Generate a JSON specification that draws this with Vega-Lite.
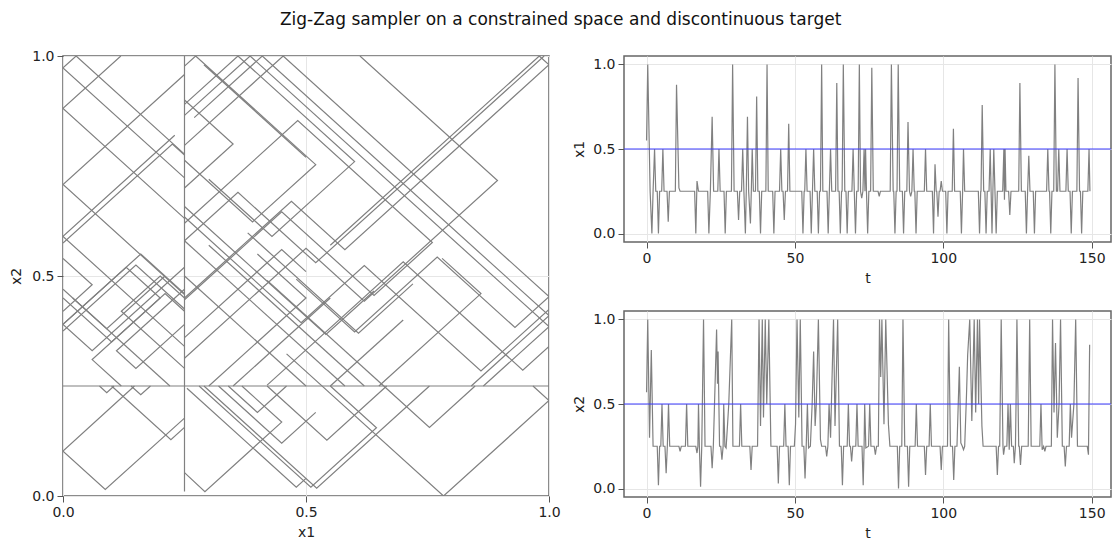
{
  "$schema": "https://vega.github.io/schema/vega-lite/v6.json",
  "background": "white",
  "padding": {"left": 8, "top": 11, "right": 0, "bottom": 0},
  "title": {"text": "Zig-Zag sampler on a constrained space and discontinuous target", "fontSize": 17, "fontWeight": "normal", "font": "DejaVu Sans", "color": "#111", "anchor": "middle", "offset": 19},
  "config": {
    "font": "DejaVu Sans",
    "view": {"stroke": "#666", "strokeWidth": 1.5},
    "axis": {"labelFont": "DejaVu Sans", "titleFont": "DejaVu Sans", "labelFontSize": 14, "titleFontSize": 14, "titleFontWeight": "normal", "labelColor": "#222", "titleColor": "#222", "tickColor": "#555", "tickSize": 6, "labelPadding": 3, "titlePadding": 6, "labelFlush": false, "domain": false, "grid": true, "gridColor": "#e6e6e6", "gridWidth": 1}
  },
  "datasets": {
    "path": [
      {"p":0,"i":0,"x1":0,"x2":0.25},{"p":0,"i":1,"x1":1,"x2":0.25},
      {"p":1,"i":0,"x1":0.25,"x2":0.01},{"p":1,"i":1,"x1":0.25,"x2":1.0},
      {"p":2,"i":0,"x1":0.55,"x2":0.57},{"p":2,"i":1,"x1":0.98,"x2":1.0},{"p":2,"i":2,"x1":1.0,"x2":0.98},{"p":2,"i":3,"x1":0.58,"x2":0.56},{"p":2,"i":4,"x1":0.47,"x2":0.67},{"p":2,"i":5,"x1":0.25,"x2":0.45},
      {"p":3,"i":0,"x1":0.99,"x2":1.0},{"p":3,"i":1,"x1":0.52,"x2":0.53},{"p":3,"i":2,"x1":0.36,"x2":0.69},{"p":3,"i":3,"x1":0.25,"x2":0.58},
      {"p":4,"i":0,"x1":0.611,"x2":1.0},{"p":4,"i":1,"x1":0.894,"x2":0.717},{"p":4,"i":2,"x1":0.62,"x2":0.443},{"p":4,"i":3,"x1":0.5,"x2":0.563},{"p":4,"i":4,"x1":0.25,"x2":0.313},
      {"p":5,"i":0,"x1":0.25,"x2":0.797},{"p":5,"i":1,"x1":0.453,"x2":1.0},{"p":5,"i":2,"x1":1.0,"x2":0.453},{"p":5,"i":3,"x1":0.93,"x2":0.383},{"p":5,"i":4,"x1":0.77,"x2":0.543},{"p":5,"i":5,"x1":0.6,"x2":0.373},{"p":5,"i":6,"x1":0.48,"x2":0.493},
      {"p":6,"i":0,"x1":0.27,"x2":0.86},{"p":6,"i":1,"x1":0.41,"x2":1.0},{"p":6,"i":2,"x1":1.0,"x2":0.41},{"p":6,"i":3,"x1":0.84,"x2":0.25},
      {"p":7,"i":0,"x1":0.25,"x2":0.865},{"p":7,"i":1,"x1":0.385,"x2":1.0},{"p":7,"i":2,"x1":1.0,"x2":0.385},{"p":7,"i":3,"x1":0.865,"x2":0.25},
      {"p":8,"i":0,"x1":1.0,"x2":0.34},{"p":8,"i":1,"x1":0.946,"x2":0.286},{"p":8,"i":2,"x1":0.7,"x2":0.532},{"p":8,"i":3,"x1":0.5,"x2":0.332},{"p":8,"i":4,"x1":0.42,"x2":0.252},
      {"p":9,"i":0,"x1":1.0,"x2":0.424},{"p":9,"i":1,"x1":0.86,"x2":0.284},{"p":9,"i":2,"x1":0.62,"x2":0.524},{"p":9,"i":3,"x1":0.49,"x2":0.394},{"p":9,"i":4,"x1":0.25,"x2":0.634},
      {"p":10,"i":0,"x1":0.25,"x2":0.62},{"p":10,"i":1,"x1":0.483,"x2":0.853},{"p":10,"i":2,"x1":0.76,"x2":0.576},{"p":10,"i":3,"x1":0.64,"x2":0.456},{"p":10,"i":4,"x1":0.45,"x2":0.646},{"p":10,"i":5,"x1":0.25,"x2":0.446},
      {"p":11,"i":0,"x1":0.25,"x2":0.977},{"p":11,"i":1,"x1":0.273,"x2":1.0},{"p":11,"i":2,"x1":0.52,"x2":0.753},{"p":11,"i":3,"x1":0.39,"x2":0.623},{"p":11,"i":4,"x1":0.25,"x2":0.763},
      {"p":12,"i":0,"x1":0.25,"x2":0.89},{"p":12,"i":1,"x1":0.36,"x2":1.0},{"p":12,"i":2,"x1":0.6,"x2":0.76},{"p":12,"i":3,"x1":0.43,"x2":0.59},{"p":12,"i":4,"x1":0.3,"x2":0.72},
      {"p":13,"i":0,"x1":0.25,"x2":0.723},{"p":13,"i":1,"x1":0,"x2":0.973},{"p":13,"i":2,"x1":0.027,"x2":1.0},{"p":13,"i":3,"x1":0.25,"x2":0.777},
      {"p":14,"i":0,"x1":0.119,"x2":1.0},{"p":14,"i":1,"x1":0,"x2":0.881},{"p":14,"i":2,"x1":0.25,"x2":0.631},
      {"p":15,"i":0,"x1":0.25,"x2":0.958},{"p":15,"i":1,"x1":0,"x2":0.708},{"p":15,"i":2,"x1":0.25,"x2":0.458},
      {"p":16,"i":0,"x1":0.23,"x2":0.82},{"p":16,"i":1,"x1":0,"x2":0.59},{"p":16,"i":2,"x1":0.25,"x2":0.34},
      {"p":17,"i":0,"x1":0,"x2":0.575},{"p":17,"i":1,"x1":0.225,"x2":0.8},{"p":17,"i":2,"x1":0.25,"x2":0.775},
      {"p":18,"i":0,"x1":0.25,"x2":0.52},{"p":18,"i":1,"x1":0.06,"x2":0.33},{"p":18,"i":2,"x1":0,"x2":0.39},{"p":18,"i":3,"x1":0.16,"x2":0.55},{"p":18,"i":4,"x1":0.25,"x2":0.46},
      {"p":19,"i":0,"x1":0.25,"x2":0.29},{"p":19,"i":1,"x1":0.12,"x2":0.42},{"p":19,"i":2,"x1":0.2,"x2":0.5},{"p":19,"i":3,"x1":0.25,"x2":0.45},
      {"p":20,"i":0,"x1":0,"x2":0.47},{"p":20,"i":1,"x1":0.22,"x2":0.25},
      {"p":21,"i":0,"x1":0,"x2":0.45},{"p":21,"i":1,"x1":0.1,"x2":0.35},{"p":21,"i":2,"x1":0.21,"x2":0.46},{"p":21,"i":3,"x1":0.25,"x2":0.42},
      {"p":22,"i":0,"x1":0,"x2":0.375},{"p":22,"i":1,"x1":0.15,"x2":0.525},{"p":22,"i":2,"x1":0.25,"x2":0.425},
      {"p":23,"i":0,"x1":0,"x2":0.39},{"p":23,"i":1,"x1":0.13,"x2":0.52},{"p":23,"i":2,"x1":0.2,"x2":0.45},{"p":23,"i":3,"x1":0.06,"x2":0.31},{"p":23,"i":4,"x1":0.12,"x2":0.25},
      {"p":24,"i":0,"x1":0.25,"x2":0.658},{"p":24,"i":1,"x1":0.541,"x2":0.367},{"p":24,"i":2,"x1":0.64,"x2":0.466},
      {"p":25,"i":0,"x1":0.38,"x2":0.598},{"p":25,"i":1,"x1":0.608,"x2":0.37},{"p":25,"i":2,"x1":0.72,"x2":0.482},
      {"p":26,"i":0,"x1":0.25,"x2":0.58},{"p":26,"i":1,"x1":0.58,"x2":0.25},
      {"p":27,"i":0,"x1":0.3,"x2":0.57},{"p":27,"i":1,"x1":0.62,"x2":0.25},
      {"p":28,"i":0,"x1":0.25,"x2":0.5},{"p":28,"i":1,"x1":0.5,"x2":0.25},
      {"p":29,"i":0,"x1":0.42,"x2":0.49},{"p":29,"i":1,"x1":0.66,"x2":0.25},
      {"p":30,"i":0,"x1":0.65,"x2":0.25},{"p":30,"i":1,"x1":0.86,"x2":0.46},{"p":30,"i":2,"x1":0.78,"x2":0.54},
      {"p":31,"i":0,"x1":0.55,"x2":0.25},{"p":31,"i":1,"x1":0.7,"x2":0.4},
      {"p":32,"i":0,"x1":0.25,"x2":0.177},{"p":32,"i":1,"x1":0.087,"x2":0.015},{"p":32,"i":2,"x1":0,"x2":0.102},{"p":32,"i":3,"x1":0.147,"x2":0.25},
      {"p":33,"i":0,"x1":0.1,"x2":0.25},{"p":33,"i":1,"x1":0.222,"x2":0.128},{"p":33,"i":2,"x1":0.25,"x2":0.156},
      {"p":34,"i":0,"x1":0.14,"x2":0.25},{"p":34,"i":1,"x1":0.16,"x2":0.23},{"p":34,"i":2,"x1":0.18,"x2":0.25},
      {"p":35,"i":0,"x1":0.075,"x2":0.25},{"p":35,"i":1,"x1":0.09,"x2":0.235},{"p":35,"i":2,"x1":0.105,"x2":0.25},
      {"p":36,"i":0,"x1":0.25,"x2":0.053},{"p":36,"i":1,"x1":0.292,"x2":0.01},{"p":36,"i":2,"x1":0.45,"x2":0.168},{"p":36,"i":3,"x1":0.368,"x2":0.25},
      {"p":37,"i":0,"x1":0.28,"x2":0.25},{"p":37,"i":1,"x1":0.51,"x2":0.02},{"p":37,"i":2,"x1":0.645,"x2":0.155},{"p":37,"i":3,"x1":0.55,"x2":0.25},
      {"p":38,"i":0,"x1":0.29,"x2":0.25},{"p":38,"i":1,"x1":0.522,"x2":0.018},{"p":38,"i":2,"x1":0.754,"x2":0.25},
      {"p":39,"i":0,"x1":0.255,"x2":0.245},{"p":39,"i":1,"x1":0.48,"x2":0.02},{"p":39,"i":2,"x1":0.5,"x2":0.04},
      {"p":40,"i":0,"x1":0.42,"x2":0.25},{"p":40,"i":1,"x1":0.543,"x2":0.127},{"p":40,"i":2,"x1":0.666,"x2":0.25},
      {"p":41,"i":0,"x1":0.46,"x2":0.323},{"p":41,"i":1,"x1":0.783,"x2":0.0},{"p":41,"i":2,"x1":1.0,"x2":0.217},{"p":41,"i":3,"x1":0.967,"x2":0.25},
      {"p":42,"i":0,"x1":0.66,"x2":0.25},{"p":42,"i":1,"x1":0.754,"x2":0.156},{"p":42,"i":2,"x1":0.848,"x2":0.25},
      {"p":43,"i":0,"x1":0.34,"x2":0.25},{"p":43,"i":1,"x1":0.4,"x2":0.19},{"p":43,"i":2,"x1":0.46,"x2":0.25},
      {"p":44,"i":0,"x1":0,"x2":0.42},{"p":44,"i":1,"x1":0.06,"x2":0.48},{"p":44,"i":2,"x1":0,"x2":0.54},
      {"p":45,"i":0,"x1":0.25,"x2":0.39},{"p":45,"i":1,"x1":0.15,"x2":0.29},{"p":45,"i":2,"x1":0.11,"x2":0.33},{"p":45,"i":3,"x1":0.25,"x2":0.47},
      {"p":46,"i":0,"x1":0.02,"x2":0.45},{"p":46,"i":1,"x1":0.09,"x2":0.38},{"p":46,"i":2,"x1":0.21,"x2":0.5},
      {"p":47,"i":0,"x1":0.3,"x2":0.25},{"p":47,"i":1,"x1":0.5,"x2":0.45},{"p":47,"i":2,"x1":0.4,"x2":0.55},
      {"p":48,"i":0,"x1":0.35,"x2":0.25},{"p":48,"i":1,"x1":0.55,"x2":0.45},
      {"p":49,"i":0,"x1":0.25,"x2":0.36},{"p":49,"i":1,"x1":0.45,"x2":0.56},{"p":49,"i":2,"x1":0.5,"x2":0.51},
      {"p":50,"i":0,"x1":0.25,"x2":0.7},{"p":50,"i":1,"x1":0.35,"x2":0.8},{"p":50,"i":2,"x1":0.25,"x2":0.9},
      {"p":51,"i":0,"x1":0.29,"x2":0.98},{"p":51,"i":1,"x1":0.5,"x2":0.77},
      {"p":52,"i":0,"x1":0.32,"x2":0.25},{"p":52,"i":1,"x1":0.45,"x2":0.12},{"p":52,"i":2,"x1":0.52,"x2":0.19}
    ],
    "s1": [
      {"t":0,"v":0.55},{"t":0.4,"v":1.0},{"t":1.2,"v":0.25},{"t":1.8,"v":0.0},{"t":2.2,"v":0.25},{"t":2.7,"v":0.5},{"t":3.1,"v":0.25},{"t":3.6,"v":0.25},{"t":4.0,"v":0.0},{"t":4.4,"v":0.25},{"t":5.1,"v":0.25},{"t":5.5,"v":0.5},{"t":5.9,"v":0.25},{"t":6.9,"v":0.25},{"t":7.3,"v":0.07},{"t":7.7,"v":0.25},{"t":9.7,"v":0.25},{"t":10.1,"v":0.88},{"t":10.9,"v":0.27},{"t":11.3,"v":0.25},{"t":16.2,"v":0.25},{"t":16.6,"v":0.0},{"t":17.0,"v":0.31},{"t":17.5,"v":0.25},{"t":20.6,"v":0.25},{"t":21.0,"v":0.0},{"t":21.5,"v":0.25},{"t":22.1,"v":0.69},{"t":22.6,"v":0.25},{"t":24.0,"v":0.25},{"t":24.4,"v":0.5},{"t":24.8,"v":0.25},{"t":26.1,"v":0.25},{"t":26.5,"v":0.0},{"t":26.9,"v":0.25},{"t":28.6,"v":0.25},{"t":29.0,"v":1.0},{"t":29.5,"v":0.25},{"t":30.6,"v":0.25},{"t":31.0,"v":0.08},{"t":31.4,"v":0.25},{"t":32.0,"v":0.25},{"t":32.4,"v":0.5},{"t":32.8,"v":0.25},{"t":33.3,"v":0.0},{"t":33.6,"v":0.25},{"t":34.0,"v":0.69},{"t":34.4,"v":0.25},{"t":35.0,"v":0.06},{"t":35.3,"v":0.25},{"t":35.6,"v":0.5},{"t":36.0,"v":0.25},{"t":36.7,"v":0.25},{"t":37.1,"v":0.81},{"t":37.5,"v":0.25},{"t":38.0,"v":0.25},{"t":38.4,"v":0.0},{"t":38.8,"v":0.25},{"t":40.2,"v":0.25},{"t":40.6,"v":1.0},{"t":41.0,"v":0.25},{"t":42.5,"v":0.25},{"t":42.9,"v":0.0},{"t":43.3,"v":0.25},{"t":44.8,"v":0.25},{"t":45.2,"v":0.5},{"t":45.6,"v":0.25},{"t":46.0,"v":0.25},{"t":46.4,"v":0.08},{"t":46.8,"v":0.25},{"t":47.5,"v":0.25},{"t":47.9,"v":0.65},{"t":48.3,"v":0.25},{"t":52.3,"v":0.25},{"t":52.7,"v":0.0},{"t":53.1,"v":0.25},{"t":53.3,"v":0.25},{"t":53.7,"v":0.5},{"t":54.1,"v":0.25},{"t":55.1,"v":0.25},{"t":55.5,"v":0.0},{"t":55.9,"v":0.25},{"t":56.3,"v":0.5},{"t":56.7,"v":0.25},{"t":57.5,"v":0.25},{"t":57.9,"v":0.0},{"t":58.3,"v":0.25},{"t":58.6,"v":0.25},{"t":59.0,"v":1.0},{"t":59.4,"v":0.25},{"t":60.8,"v":0.25},{"t":61.2,"v":0.0},{"t":61.6,"v":0.25},{"t":62.0,"v":0.5},{"t":62.4,"v":0.25},{"t":63.7,"v":0.25},{"t":64.1,"v":0.89},{"t":64.5,"v":0.25},{"t":64.9,"v":0.25},{"t":65.3,"v":0.0},{"t":65.7,"v":0.25},{"t":65.9,"v":0.25},{"t":66.3,"v":1.0},{"t":66.8,"v":0.25},{"t":67.2,"v":0.25},{"t":67.6,"v":0.0},{"t":68.0,"v":0.25},{"t":69.2,"v":0.25},{"t":69.6,"v":0.5},{"t":70.0,"v":0.25},{"t":70.4,"v":0.0},{"t":70.8,"v":0.25},{"t":71.3,"v":0.25},{"t":71.7,"v":1.0},{"t":72.1,"v":0.25},{"t":72.5,"v":0.21},{"t":72.9,"v":0.25},{"t":73.3,"v":0.5},{"t":73.6,"v":0.25},{"t":73.8,"v":0.5},{"t":74.1,"v":0.25},{"t":74.5,"v":0.0},{"t":74.9,"v":0.25},{"t":75.5,"v":0.25},{"t":75.9,"v":0.98},{"t":76.4,"v":0.25},{"t":78.0,"v":0.25},{"t":78.4,"v":0.22},{"t":78.8,"v":0.25},{"t":82.1,"v":0.25},{"t":82.5,"v":1.0},{"t":83.1,"v":0.25},{"t":83.3,"v":0.25},{"t":83.7,"v":0.0},{"t":84.1,"v":0.25},{"t":84.4,"v":0.25},{"t":84.8,"v":1.0},{"t":85.3,"v":0.25},{"t":86.2,"v":0.25},{"t":86.6,"v":0.0},{"t":87.0,"v":0.25},{"t":87.7,"v":0.25},{"t":88.1,"v":0.66},{"t":88.6,"v":0.25},{"t":89.0,"v":0.22},{"t":89.4,"v":0.25},{"t":89.8,"v":0.5},{"t":90.2,"v":0.25},{"t":90.4,"v":0.25},{"t":90.8,"v":0.0},{"t":91.2,"v":0.25},{"t":93.6,"v":0.25},{"t":94.0,"v":0.5},{"t":94.4,"v":0.25},{"t":96.3,"v":0.25},{"t":96.7,"v":0.0},{"t":97.0,"v":0.25},{"t":97.2,"v":0.41},{"t":97.6,"v":0.25},{"t":97.8,"v":0.25},{"t":98.2,"v":0.1},{"t":98.6,"v":0.25},{"t":98.9,"v":0.25},{"t":99.3,"v":0.31},{"t":99.7,"v":0.25},{"t":100.8,"v":0.25},{"t":101.2,"v":0.0},{"t":101.6,"v":0.25},{"t":103.0,"v":0.25},{"t":103.4,"v":0.62},{"t":103.8,"v":0.25},{"t":105.7,"v":0.25},{"t":106.1,"v":0.0},{"t":106.5,"v":0.25},{"t":106.8,"v":0.5},{"t":107.2,"v":0.25},{"t":111.8,"v":0.25},{"t":112.2,"v":0.0},{"t":112.6,"v":0.25},{"t":112.7,"v":0.25},{"t":113.1,"v":0.76},{"t":113.6,"v":0.25},{"t":114.0,"v":0.25},{"t":114.4,"v":0.0},{"t":114.8,"v":0.25},{"t":115.4,"v":0.25},{"t":115.8,"v":0.5},{"t":116.1,"v":0.25},{"t":116.4,"v":0.0},{"t":116.7,"v":0.25},{"t":117.0,"v":0.5},{"t":117.4,"v":0.25},{"t":117.8,"v":0.0},{"t":118.2,"v":0.25},{"t":120.0,"v":0.25},{"t":120.4,"v":0.5},{"t":120.6,"v":0.2},{"t":120.8,"v":0.5},{"t":121.1,"v":0.25},{"t":122.0,"v":0.25},{"t":122.4,"v":0.11},{"t":122.8,"v":0.25},{"t":125.4,"v":0.25},{"t":125.8,"v":0.89},{"t":126.3,"v":0.25},{"t":127.6,"v":0.25},{"t":128.0,"v":0.0},{"t":128.4,"v":0.25},{"t":128.8,"v":0.46},{"t":129.2,"v":0.25},{"t":130.3,"v":0.25},{"t":130.7,"v":0.0},{"t":131.1,"v":0.25},{"t":134.8,"v":0.25},{"t":135.2,"v":0.5},{"t":135.6,"v":0.25},{"t":135.8,"v":0.25},{"t":136.2,"v":0.0},{"t":136.6,"v":0.25},{"t":137.2,"v":0.25},{"t":137.6,"v":1.0},{"t":138.1,"v":0.25},{"t":138.5,"v":0.25},{"t":138.9,"v":0.5},{"t":139.3,"v":0.25},{"t":141.3,"v":0.25},{"t":141.7,"v":0.5},{"t":142.1,"v":0.25},{"t":142.7,"v":0.25},{"t":143.1,"v":0.0},{"t":143.5,"v":0.25},{"t":145.0,"v":0.25},{"t":145.4,"v":0.92},{"t":145.9,"v":0.25},{"t":146.2,"v":0.25},{"t":146.6,"v":0.0},{"t":147.0,"v":0.25},{"t":148.7,"v":0.25},{"t":149.1,"v":0.5},{"t":149.4,"v":0.25}
    ],
    "s2": [
      {"t":0,"v":0.57},{"t":0.4,"v":1.0},{"t":1.0,"v":0.3},{"t":1.6,"v":0.82},{"t":2.2,"v":0.25},{"t":3.6,"v":0.25},{"t":4.0,"v":0.02},{"t":4.4,"v":0.25},{"t":4.8,"v":0.25},{"t":5.2,"v":0.5},{"t":5.6,"v":0.25},{"t":6.2,"v":0.25},{"t":6.6,"v":0.09},{"t":7.0,"v":0.25},{"t":7.4,"v":0.5},{"t":7.8,"v":0.25},{"t":10.9,"v":0.25},{"t":11.3,"v":0.22},{"t":11.7,"v":0.25},{"t":13.1,"v":0.25},{"t":13.5,"v":0.5},{"t":13.9,"v":0.25},{"t":16.6,"v":0.25},{"t":17.0,"v":0.21},{"t":17.3,"v":0.25},{"t":17.5,"v":0.5},{"t":17.8,"v":0.25},{"t":18.2,"v":0.01},{"t":18.6,"v":0.25},{"t":18.8,"v":0.5},{"t":19.2,"v":1.0},{"t":19.7,"v":0.25},{"t":21.7,"v":0.25},{"t":22.1,"v":0.12},{"t":22.5,"v":0.25},{"t":22.9,"v":0.5},{"t":23.6,"v":0.94},{"t":23.9,"v":0.62},{"t":24.1,"v":0.81},{"t":24.6,"v":0.25},{"t":25.0,"v":0.25},{"t":25.4,"v":0.17},{"t":25.8,"v":0.25},{"t":26.0,"v":0.5},{"t":26.4,"v":0.25},{"t":26.8,"v":0.24},{"t":27.3,"v":0.38},{"t":27.7,"v":0.5},{"t":28.7,"v":1.0},{"t":29.1,"v":0.25},{"t":31.3,"v":0.25},{"t":31.7,"v":0.5},{"t":32.1,"v":0.25},{"t":34.8,"v":0.25},{"t":35.2,"v":0.11},{"t":35.6,"v":0.25},{"t":37.4,"v":0.25},{"t":37.9,"v":1.0},{"t":38.4,"v":0.37},{"t":39.0,"v":1.0},{"t":39.4,"v":0.42},{"t":40.0,"v":1.0},{"t":40.5,"v":0.5},{"t":41.2,"v":1.0},{"t":41.9,"v":0.25},{"t":44.0,"v":0.25},{"t":44.4,"v":0.03},{"t":44.8,"v":0.25},{"t":46.2,"v":0.25},{"t":46.6,"v":0.5},{"t":47.0,"v":0.25},{"t":47.7,"v":0.25},{"t":48.1,"v":0.02},{"t":48.5,"v":0.25},{"t":49.8,"v":0.25},{"t":50.2,"v":0.38},{"t":50.7,"v":1.0},{"t":51.3,"v":0.42},{"t":51.8,"v":1.0},{"t":52.4,"v":0.25},{"t":53.0,"v":0.25},{"t":53.4,"v":0.06},{"t":53.8,"v":0.25},{"t":54.2,"v":0.5},{"t":54.6,"v":0.24},{"t":55.2,"v":0.25},{"t":55.8,"v":0.5},{"t":56.3,"v":0.81},{"t":56.8,"v":0.37},{"t":57.2,"v":0.5},{"t":57.9,"v":1.0},{"t":58.6,"v":0.29},{"t":59.0,"v":0.25},{"t":60.3,"v":0.25},{"t":60.7,"v":0.19},{"t":61.1,"v":0.25},{"t":61.5,"v":0.5},{"t":62.0,"v":0.3},{"t":63.0,"v":1.0},{"t":63.5,"v":0.37},{"t":64.4,"v":1.0},{"t":65.0,"v":0.25},{"t":65.6,"v":0.25},{"t":66.0,"v":0.02},{"t":66.4,"v":0.25},{"t":67.6,"v":0.25},{"t":68.0,"v":0.5},{"t":68.4,"v":0.25},{"t":68.7,"v":0.25},{"t":69.1,"v":0.16},{"t":69.5,"v":0.25},{"t":70.5,"v":0.25},{"t":70.9,"v":0.5},{"t":71.3,"v":0.25},{"t":72.6,"v":0.25},{"t":73.0,"v":0.02},{"t":73.3,"v":0.25},{"t":73.5,"v":0.5},{"t":73.9,"v":0.24},{"t":74.8,"v":0.25},{"t":75.2,"v":0.5},{"t":75.6,"v":0.25},{"t":76.7,"v":0.25},{"t":77.1,"v":0.2},{"t":77.5,"v":0.25},{"t":78.1,"v":0.25},{"t":78.5,"v":1.0},{"t":78.9,"v":0.66},{"t":79.3,"v":1.0},{"t":80.0,"v":0.38},{"t":80.6,"v":1.0},{"t":81.5,"v":0.38},{"t":82.0,"v":0.25},{"t":84.5,"v":0.25},{"t":84.9,"v":0.0},{"t":85.3,"v":0.25},{"t":86.0,"v":0.25},{"t":86.4,"v":1.0},{"t":87.0,"v":0.25},{"t":87.9,"v":0.25},{"t":88.3,"v":0.01},{"t":88.7,"v":0.25},{"t":90.5,"v":0.25},{"t":90.9,"v":0.5},{"t":91.3,"v":0.25},{"t":93.6,"v":0.25},{"t":94.0,"v":0.08},{"t":94.4,"v":0.25},{"t":95.2,"v":0.25},{"t":95.6,"v":0.5},{"t":96.0,"v":0.25},{"t":98.9,"v":0.25},{"t":99.3,"v":0.11},{"t":99.7,"v":0.25},{"t":101.4,"v":0.25},{"t":101.8,"v":1.0},{"t":102.4,"v":0.25},{"t":103.1,"v":0.25},{"t":103.5,"v":0.05},{"t":103.9,"v":0.25},{"t":104.6,"v":0.25},{"t":105.4,"v":0.72},{"t":105.9,"v":0.27},{"t":106.4,"v":0.25},{"t":106.8,"v":0.23},{"t":107.2,"v":0.25},{"t":107.8,"v":0.55},{"t":108.2,"v":0.79},{"t":108.9,"v":1.0},{"t":109.6,"v":0.4},{"t":110.4,"v":1.0},{"t":110.9,"v":0.45},{"t":111.5,"v":1.0},{"t":111.9,"v":0.5},{"t":112.2,"v":1.0},{"t":113.0,"v":0.37},{"t":113.4,"v":0.25},{"t":117.8,"v":0.25},{"t":118.2,"v":0.08},{"t":118.6,"v":0.25},{"t":119.0,"v":0.25},{"t":119.5,"v":1.0},{"t":120.1,"v":0.25},{"t":120.3,"v":0.2},{"t":120.7,"v":0.25},{"t":121.4,"v":0.25},{"t":121.8,"v":0.5},{"t":122.2,"v":0.23},{"t":122.6,"v":0.5},{"t":123.0,"v":0.25},{"t":123.6,"v":0.25},{"t":123.9,"v":0.15},{"t":124.3,"v":0.25},{"t":124.5,"v":0.5},{"t":124.8,"v":1.0},{"t":125.4,"v":0.25},{"t":125.6,"v":0.25},{"t":126.0,"v":0.14},{"t":126.4,"v":0.25},{"t":128.6,"v":0.25},{"t":129.1,"v":1.0},{"t":129.6,"v":0.25},{"t":132.5,"v":0.25},{"t":132.9,"v":0.5},{"t":133.3,"v":0.23},{"t":133.8,"v":0.25},{"t":134.2,"v":0.22},{"t":134.6,"v":0.25},{"t":136.4,"v":0.25},{"t":136.8,"v":1.0},{"t":137.3,"v":0.45},{"t":137.8,"v":0.86},{"t":138.4,"v":0.3},{"t":139.0,"v":0.5},{"t":139.5,"v":1.0},{"t":140.1,"v":0.25},{"t":140.7,"v":0.25},{"t":141.1,"v":0.13},{"t":141.5,"v":0.25},{"t":142.4,"v":0.25},{"t":142.8,"v":0.5},{"t":143.2,"v":0.3},{"t":144.0,"v":0.5},{"t":144.6,"v":1.0},{"t":145.2,"v":0.25},{"t":148.5,"v":0.25},{"t":148.9,"v":0.2},{"t":149.3,"v":0.85}
    ]
  },
  "hconcat": [
    {
      "width": 486, "height": 440,
      "data": {"name": "path"},
      "mark": {"type": "line", "color": "#808080", "strokeWidth": 1.2, "clip": true},
      "encoding": {
        "x": {"field": "x1", "type": "quantitative", "scale": {"domain": [0, 1], "nice": false, "zero": false}, "axis": {"title": "x1", "values": [0, 0.5, 1], "format": ".1f"}},
        "y": {"field": "x2", "type": "quantitative", "scale": {"domain": [0, 1], "nice": false, "zero": false}, "axis": {"title": "x2", "values": [0, 0.5, 1], "format": ".1f", "titlePadding": 8}},
        "detail": {"field": "p", "type": "nominal"},
        "order": {"field": "i", "type": "quantitative"}
      }
    },
    {
      "spacing": 24,
      "vconcat": [
        {
          "width": 487, "height": 186,
          "layer": [
            {
              "data": {"name": "s1"},
              "mark": {"type": "line", "color": "#808080", "strokeWidth": 1.2, "clip": true},
              "encoding": {
                "x": {"field": "t", "type": "quantitative", "scale": {"domain": [-7.6, 156.5], "nice": false, "zero": false}, "axis": {"title": "t", "values": [0, 50, 100, 150]}},
                "y": {"field": "v", "type": "quantitative", "scale": {"domain": [-0.05, 1.05], "nice": false, "zero": false}, "axis": {"title": "x1", "values": [0, 0.5, 1], "format": ".1f"}}
              }
            },
            {
              "data": {"values": [{"c": 0.5}]},
              "mark": {"type": "rule", "color": "#3a3aff", "strokeWidth": 1},
              "encoding": {"y": {"field": "c", "type": "quantitative"}}
            }
          ]
        },
        {
          "width": 487, "height": 186,
          "layer": [
            {
              "data": {"name": "s2"},
              "mark": {"type": "line", "color": "#808080", "strokeWidth": 1.2, "clip": true},
              "encoding": {
                "x": {"field": "t", "type": "quantitative", "scale": {"domain": [-7.6, 156.5], "nice": false, "zero": false}, "axis": {"title": "t", "values": [0, 50, 100, 150]}},
                "y": {"field": "v", "type": "quantitative", "scale": {"domain": [-0.05, 1.05], "nice": false, "zero": false}, "axis": {"title": "x2", "values": [0, 0.5, 1], "format": ".1f"}}
              }
            },
            {
              "data": {"values": [{"c": 0.5}]},
              "mark": {"type": "rule", "color": "#3a3aff", "strokeWidth": 1},
              "encoding": {"y": {"field": "c", "type": "quantitative"}}
            }
          ]
        }
      ]
    }
  ],
  "spacing": 10
}
